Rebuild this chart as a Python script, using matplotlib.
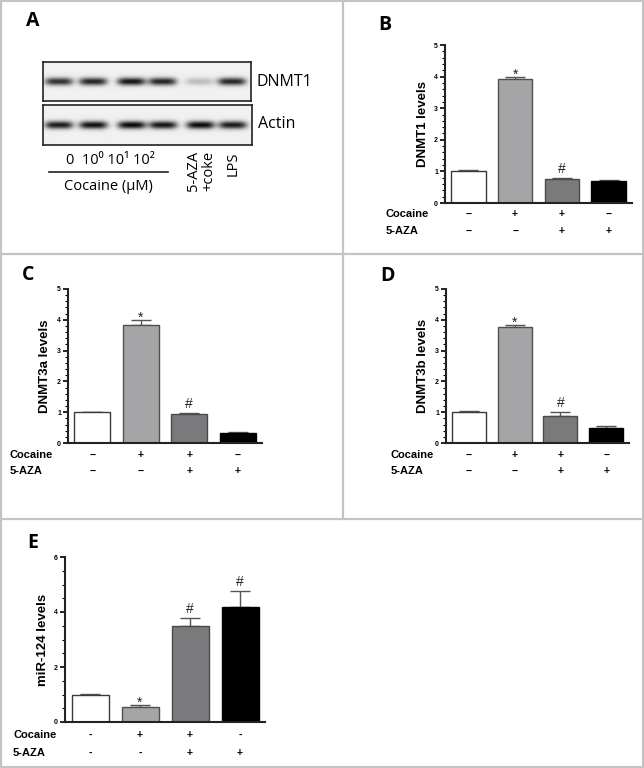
import numpy as np
import matplotlib
matplotlib.use('Agg')
from matplotlib import pyplot as plt
from matplotlib.lines import Line2D
from matplotlib.ticker import MultipleLocator

W, H = 644, 768

# western blot band intensities (0 = no band, 1 = darkest)
lanes = ['0', '10^0', '10^1', '10^2', '5-AZA+coke', 'LPS']
dnmt1_bands = [0.80, 0.85, 0.92, 0.85, 0.22, 0.85]
actin_bands = [0.88, 0.92, 0.95, 0.90, 0.95, 0.88]

cocaine = ['−', '+', '+', '−']
aza = ['−', '−', '+', '+']
cocaine_e = ['-', '+', '+', '-']
aza_e = ['-', '-', '+', '+']

dnmt1_mean = [1.0, 3.93, 0.75, 0.71]
dnmt1_err = [0.03, 0.06, 0.04, 0.02]
dnmt3a_mean = [1.0, 3.82, 0.95, 0.33]
dnmt3a_err = [0.02, 0.18, 0.04, 0.02]
dnmt3b_mean = [1.0, 3.75, 0.88, 0.48]
dnmt3b_err = [0.03, 0.07, 0.13, 0.07]
mir124_mean = [1.0, 0.55, 3.5, 4.2]
mir124_err = [0.02, 0.08, 0.28, 0.58]

bar_colors = ['white', '#a5a5a7', '#7a7a7c', 'black']
edge_colors = ['#3a3a3a', '#505050', '#4a4a4a', 'black']

BOLD = ['Liberation Sans', 'DejaVu Sans']
SOFT = ['Open Sans', 'DejaVu Sans']

fig = plt.figure(figsize=(W / 100, H / 100), dpi=100)


def fx(px):
    return px / W


def fy(py):
    return 1 - py / H


def add_ax(x0, x1, ytop, ybot):
    return fig.add_axes([fx(x0), fy(ybot), fx(x1 - x0), (ybot - ytop) / H])


# panel borders
border = '#c4c4c4'
for (xa, ya, xb, yb) in [(1, 1, 643, 1), (1, 767, 643, 767), (1, 1, 1, 767), (643, 1, 643, 767),
                         (1, 254, 643, 254), (1, 519, 643, 519), (343, 1, 343, 519)]:
    fig.add_artist(Line2D([fx(xa), fx(xb)], [fy(ya), fy(yb)], color=border, lw=1.6))


def panel_letter(txt, px, py):
    fig.text(fx(px), fy(py), txt, fontsize=14, fontweight='bold', family=SOFT,
             ha='center', va='center')


def sign_rows(ax, rows, row_y):
    for j, row in enumerate(rows):
        for i, sgn in enumerate(row):
            x_disp = ax.transData.transform((i, 0))[0]
            fig.text(x_disp / W, fy(row_y[j]), sgn, ha='center', va='center',
                     fontsize=7.5, fontweight='bold', family=BOLD)


def bar_panel(ax, means, errs, ylabel, ymax, major, minor, marks, rows, label_x, row_y):
    x = np.arange(len(means))
    ax.bar(x, means, width=0.74, color=bar_colors, edgecolor=edge_colors, linewidth=1.0, zorder=2)
    ax.errorbar(x, means, yerr=[np.zeros(len(errs)), errs], fmt='none', ecolor='#555555',
                elinewidth=1.0, capsize=7, capthick=1.0, zorder=1)
    ax.set_xlim(-0.5, 3.5)
    ax.set_ylim(0, ymax)
    ax.yaxis.set_major_locator(MultipleLocator(major))
    ax.yaxis.set_minor_locator(MultipleLocator(minor))
    for s in ['top', 'right']:
        ax.spines[s].set_visible(False)
    for s in ['left', 'bottom']:
        ax.spines[s].set_linewidth(1.5)
        ax.spines[s].set_color('#222222')
    ax.set_xticks([])
    ax.tick_params(axis='y', which='major', length=3.5, width=1.2, labelsize=5, pad=1.5)
    ax.tick_params(axis='y', which='minor', length=2, width=0.8)
    for lab in ax.get_yticklabels():
        lab.set_fontweight('bold')
        lab.set_family(BOLD)
    ax.set_ylabel(ylabel, fontsize=9.5, fontweight='bold', family=BOLD, labelpad=4)
    for i, m in marks:
        off = -0.03 if m == '*' else 0.012
        ax.text(i, means[i] + errs[i] + ymax * off, m, ha='center', va='bottom',
                fontsize=10, family=BOLD, color='#222222')
    for j, name in enumerate(['Cocaine', '5-AZA']):
        fig.text(fx(label_x), fy(row_y[j]), name, fontsize=8, fontweight='bold', family=BOLD,
                 ha='left', va='center')
    sign_rows(ax, rows, row_y)


# ---- panel A : blot ----
panel_letter('A', 33, 21)


def blot(ax, bands):
    nx, ny = 208, 40
    xs = np.linspace(0, 1, nx)
    ys = np.linspace(0, 1, ny)
    X, Y = np.meshgrid(xs, ys)
    img = np.full((ny, nx), 0.06)
    centers = [0.075, 0.24, 0.425, 0.575, 0.755, 0.91]
    for c, b in zip(centers, bands):
        prof_x = np.exp(-((X - c) / 0.068) ** 4)
        prof_y = np.exp(-((Y - 0.5) / 0.1) ** 2)
        img = img + b * prof_x * prof_y
    ax.imshow(np.clip(img, 0, 1), cmap='gray_r', vmin=0, vmax=1.05, aspect='auto',
              extent=[0, 1, 1, 0], interpolation='bilinear')
    ax.set_xticks([])
    ax.set_yticks([])
    for s in ax.spines.values():
        s.set_linewidth(1.2)
        s.set_color('#222222')


ax_b1 = add_ax(43, 251, 62, 101)
blot(ax_b1, dnmt1_bands)
ax_b2 = add_ax(43, 252, 105, 145)
blot(ax_b2, actin_bands)

fig.text(fx(256), fy(82), 'DNMT1', fontsize=11.5, family=SOFT, ha='left', va='center')
fig.text(fx(258), fy(124), 'Actin', fontsize=11.5, family=SOFT, ha='left', va='center')
fig.text(fx(110), fy(161), '0  10⁰ 10¹ 10²', fontsize=10.5, family=SOFT, ha='center', va='center')
fig.add_artist(Line2D([fx(49), fx(168)], [fy(172), fy(172)], color='#222222', lw=1.2))
fig.text(fx(108), fy(187), 'Cocaine (μM)', fontsize=10.5, family=SOFT, ha='center', va='center')
fig.text(fx(193), fy(151), '5-AZA', fontsize=10.5, family=SOFT, rotation=90, ha='center', va='top')
fig.text(fx(209), fy(151), '+coke', fontsize=10.5, family=SOFT, rotation=90, ha='center', va='top')
fig.text(fx(233), fy(152), 'LPS', fontsize=10.5, family=SOFT, rotation=90, ha='center', va='top')

# ---- panel B ----
panel_letter('B', 385, 25)
axB = add_ax(445, 632, 45, 203)
bar_panel(axB, dnmt1_mean, dnmt1_err, 'DNMT1 levels', 5, 1, 0.2, [(1, '*'), (2, '#')],
          [cocaine, aza], 386, [214, 231])

# ---- panel C ----
panel_letter('C', 28, 275)
axC = add_ax(68, 262, 289, 443)
bar_panel(axC, dnmt3a_mean, dnmt3a_err, 'DNMT3a levels', 5, 1, 0.2, [(1, '*'), (2, '#')],
          [cocaine, aza], 10, [455, 471])

# ---- panel D ----
panel_letter('D', 387, 276)
axD = add_ax(446, 629, 289, 443)
bar_panel(axD, dnmt3b_mean, dnmt3b_err, 'DNMT3b levels', 5, 1, 0.2, [(1, '*'), (2, '#')],
          [cocaine, aza], 391, [455, 471])

# ---- panel E ----
panel_letter('E', 33, 543)
axE = add_ax(65, 265, 557, 722)
bar_panel(axE, mir124_mean, mir124_err, 'miR-124 levels', 6, 2, 0.5,
          [(1, '*'), (2, '#'), (3, '#')], [cocaine_e, aza_e], 13, [735, 753])

fig.savefig('out.png', dpi=100)
